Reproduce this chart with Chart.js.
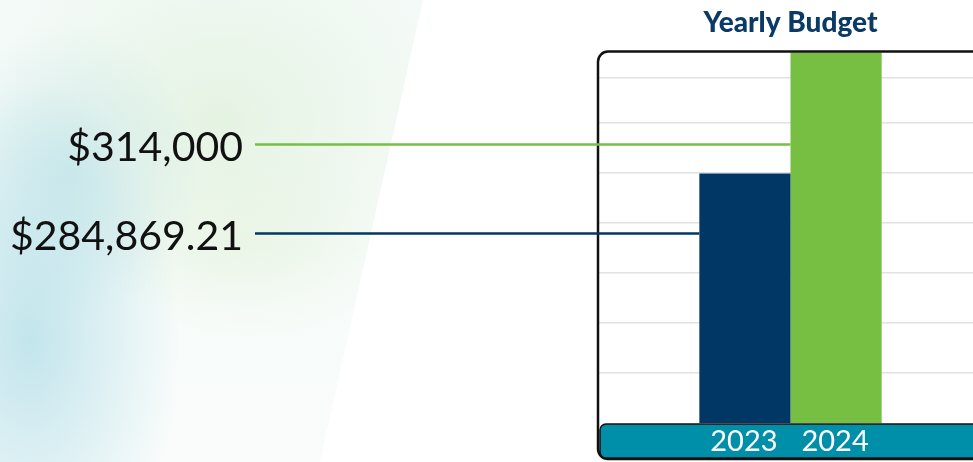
<!DOCTYPE html>
<html>
<head>
<meta charset="utf-8">
<title>Yearly Budget</title>
<script src="https://cdn.jsdelivr.net/npm/chart.js@4.4.1/dist/chart.umd.min.js"></script>
<style>
  html, body { margin: 0; padding: 0; width: 973px; height: 462px; overflow: hidden; background: #ffffff; }
  #wash {
    position: absolute; left: 0; top: 0; width: 440px; height: 462px;
    clip-path: polygon(0 0, 423px 0, 320px 462px, 0 462px);
    background:
      radial-gradient(ellipse 150px 260px at 30px 340px, rgba(150, 210, 225, 0.55), rgba(150, 210, 225, 0) 100%),
      radial-gradient(ellipse 130px 150px at 70px 170px, rgba(175, 220, 230, 0.45), rgba(175, 220, 230, 0) 100%),
      radial-gradient(ellipse 230px 190px at 220px 120px, rgba(222, 240, 218, 0.7), rgba(222, 240, 218, 0) 100%),
      radial-gradient(ellipse 150px 100px at 250px 240px, rgba(232, 244, 224, 0.6), rgba(232, 244, 224, 0) 100%),
      linear-gradient(180deg, #f4faf7 0%, #f9fcfb 100%);
  }
  #wrap { position: absolute; left: 0; top: 0; width: 990px; height: 462px; }
</style>
</head>
<body>
<div id="wash"></div>
<div id="wrap"><canvas id="budget"></canvas></div>
<script>
const years = ["2023", "2024"];
const budgets = [284869.21, 314000];
const barColors = ["#003764", "#76bf43"];
const gridTicks = [245000, 255000, 265000, 275000, 285000, 295000, 304000];

function money(v) {
  return "$" + v.toLocaleString("en-US", { minimumFractionDigits: 0, maximumFractionDigits: 2 });
}

// frame, year band, value labels and leader lines
const decorations = {
  id: "decorations",
  beforeDraw(chart) {
    const ctx = chart.ctx;
    const area = chart.chartArea;
    ctx.save();
    ctx.fillStyle = "#ffffff";
    ctx.fillRect(area.left, area.top, area.right - area.left, area.bottom - area.top);
    ctx.restore();
  },
  afterDraw(chart) {
    const ctx = chart.ctx;
    const area = chart.chartArea;
    ctx.save();

    // outer frame
    ctx.strokeStyle = "#111111";
    ctx.lineWidth = 2.5;
    ctx.beginPath();
    ctx.roundRect(area.left - 1, area.top - 1, area.right - area.left + 20, 460 - area.top, 10);
    ctx.stroke();

    // year band
    ctx.fillStyle = "#008fa9";
    ctx.strokeStyle = "#111111";
    ctx.lineWidth = 1.5;
    ctx.beginPath();
    ctx.roundRect(area.left + 1, area.bottom + 1, area.right - area.left + 20, 458 - area.bottom - 1, 6);
    ctx.fill();
    ctx.stroke();

    ctx.fillStyle = "#ffffff";
    ctx.font = "29px Lato";
    ctx.textAlign = "center";
    ctx.textBaseline = "middle";
    chart.data.datasets.forEach((ds, i) => {
      const bar = chart.getDatasetMeta(i).data[0];
      ctx.fillText(ds.label, bar.x - 1, area.bottom + 19);
    });

    // leader lines from the value labels to each bar
    const leaderY = [area.top + 181, area.top + 92];
    chart.data.datasets.forEach((ds, i) => {
      const bar = chart.getDatasetMeta(i).data[0];
      const left = bar.x - bar.width / 2;
      ctx.strokeStyle = barColors[i];
      ctx.lineWidth = 2.5;
      ctx.beginPath();
      ctx.moveTo(255, leaderY[i]);
      ctx.lineTo(left, leaderY[i]);
      ctx.stroke();

      ctx.fillStyle = "#111111";
      ctx.font = "41px Lato";
      ctx.textAlign = "right";
      ctx.textBaseline = "middle";
      ctx.fillText(money(ds.data[0]), 243, leaderY[i] + 3);
    });

    ctx.restore();
  }
};

new Chart(document.getElementById("budget"), {
  type: "bar",
  data: {
    labels: ["Budget"],
    datasets: years.map((year, i) => ({
      label: year,
      data: [budgets[i]],
      backgroundColor: barColors[i],
      borderWidth: 0,
      barPercentage: 1,
      categoryPercentage: 0.476,
    })),
  },
  options: {
    responsive: true,
    maintainAspectRatio: false,
    animation: false,
    layout: {
      padding: { left: 599, right: 8, top: 0, bottom: 39 },
    },
    plugins: {
      legend: { display: false },
      tooltip: { enabled: false },
      title: {
        display: true,
        text: "Yearly Budget",
        color: "#0b3a66",
        font: { family: "Lato", size: 28, weight: "900" },
        padding: { top: 6, bottom: 13 },
      },
    },
    scales: {
      x: { display: false },
      y: {
        min: 235000,
        max: 309000,
        afterBuildTicks: (scale) => {
          scale.ticks = gridTicks.map((v) => ({ value: v }));
        },
        ticks: { display: false },
        border: { display: false },
        grid: { color: "#e2e2e2", lineWidth: 1.5, drawTicks: false },
      },
    },
  },
  plugins: [decorations],
});
</script>
</body>
</html>
